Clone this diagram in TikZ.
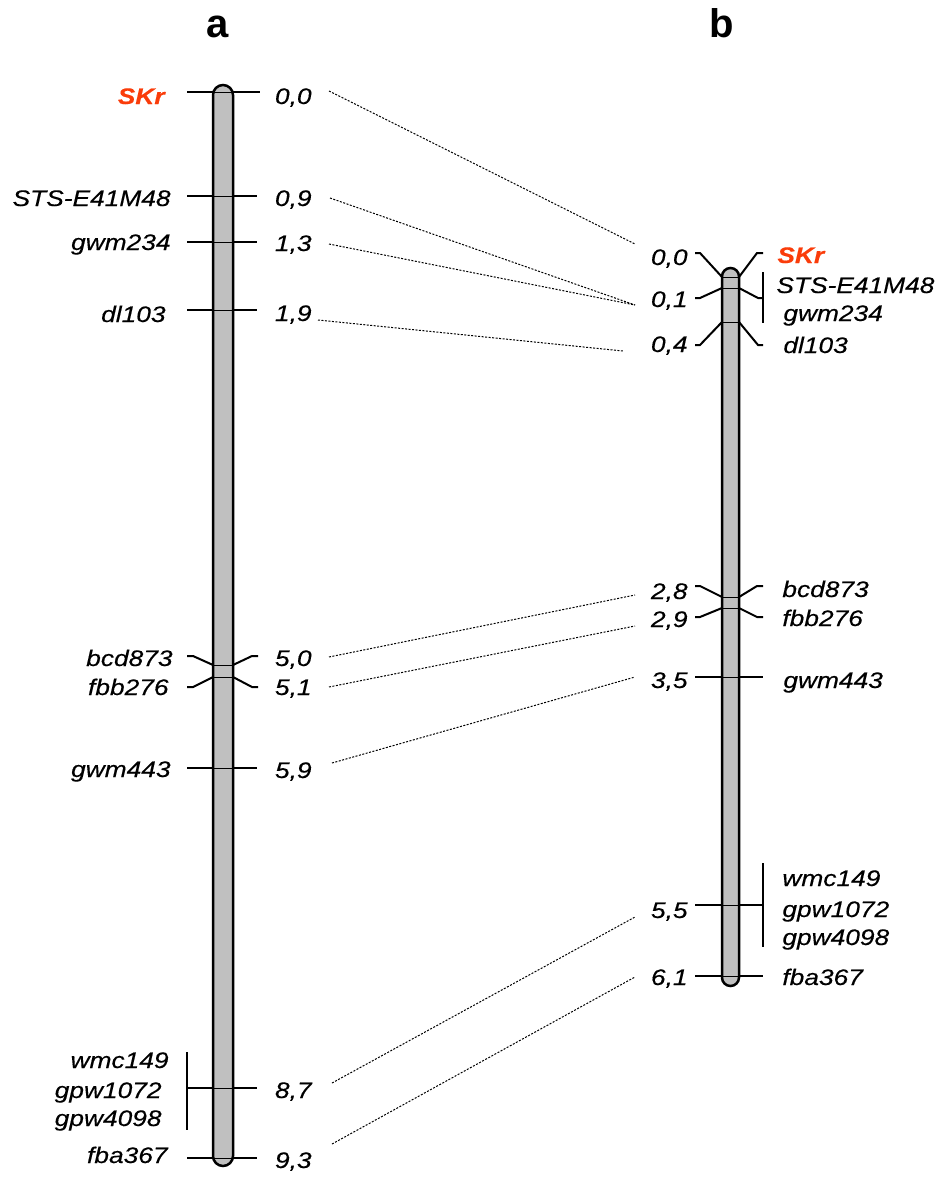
\documentclass[tikz,border=0pt]{standalone}
\usepackage{fontspec}
\setmainfont{Liberation Sans}[FakeStretch=1.17,FakeBold=0.35]
\newfontfamily\titlefont{Liberation Sans}
\definecolor{skred}{RGB}{250,60,10}
\definecolor{chromgray}{RGB}{192,192,192}
\begin{document}
\begin{tikzpicture}[x=0.5pt,y=-0.5pt,
  lbl/.style={inner sep=0pt, font=\fontsize{11.25}{13}\selectfont\itshape},
  lblL/.style={lbl, anchor=base east},
  lblR/.style={lbl, anchor=base west},
  redlbl/.style={text=skred, font=\fontsize{11.25}{13}\selectfont\bfseries\itshape},
  title/.style={inner sep=0pt, anchor=base, font=\fontsize{20}{22}\selectfont\titlefont\bfseries},
  chrom/.style={draw=black, fill=chromgray, line width=1.25pt},
  tick/.style={draw=black, line width=1pt},
  inner/.style={draw=black, line width=0.5pt},
  link/.style={draw=black, line width=0.5pt, dash pattern=on 1pt off 0.75pt}]
\useasboundingbox (0,0) rectangle (942,1178);

% titles
\node[title] (ta) at (218,37) {a};
\node[title] (tb) at (722,37) {b};

% chromosomes
\draw[chrom, rounded corners=5pt] (213,85) rectangle (233,1166);
\draw[chrom, rounded corners=4.25pt] (722,268) rectangle (739,986);

% ---- chromosome a ticks
\foreach \yy/\xr in {92/260,196/257,242/257,310/257,768/257,1088/257,1158/257}{
  \draw[tick] (187,\yy) -- (213,\yy);
  \draw[inner] (213,\yy) -- (233,\yy);
  \draw[tick] (233,\yy) -- (\xr,\yy);
}
\draw[tick] (187,656) -- (193,656) -- (213,665);
\draw[inner] (213,665) -- (233,665);
\draw[tick] (233,665) -- (252,656) -- (258,656);
\draw[tick] (187,687) -- (193,687) -- (213,677);
\draw[inner] (213,677) -- (233,677);
\draw[tick] (233,677) -- (252,687) -- (258,687);
\draw[tick] (187,1052) -- (187,1130);

% ---- chromosome b ticks
\draw[tick] (695,253) -- (700,253) -- (722,277);
\draw[inner] (722,277) -- (739,277);
\draw[tick] (739,277) -- (757,253) -- (763,253);
\draw[tick] (695,298) -- (700,298) -- (722,288);
\draw[inner] (722,288) -- (739,288);
\draw[tick] (739,288) -- (758,298) -- (763,298);
\draw[tick] (695,345) -- (700,345) -- (722,322);
\draw[inner] (722,322) -- (739,322);
\draw[tick] (739,322) -- (758,345) -- (763,345);
\draw[tick] (763,272) -- (763,323);
\draw[tick] (695,586) -- (700,586) -- (722,597);
\draw[inner] (722,597) -- (739,597);
\draw[tick] (739,597) -- (757,586) -- (763,586);
\draw[tick] (695,617) -- (700,617) -- (722,608);
\draw[inner] (722,608) -- (739,608);
\draw[tick] (739,608) -- (757,617) -- (763,617);
\foreach \yy in {677,905,976}{
  \draw[tick] (695,\yy) -- (722,\yy);
  \draw[inner] (722,\yy) -- (739,\yy);
  \draw[tick] (739,\yy) -- (763,\yy);
}
\draw[tick] (763,863) -- (763,947);

% ---- labels a (left)
\node[lblL, redlbl] (aSKr) at (165,104) {SKr};
\node[lblL] (aSTS) at (171,206) {STS-E41M48};
\node[lblL] (agwm234) at (171,250) {gwm234};
\node[lblL] (adl103) at (166,322) {dl103};
\node[lblL] (abcd873) at (173,666) {bcd873};
\node[lblL] (afbb276) at (169,695) {fbb276};
\node[lblL] (agwm443) at (171,777) {gwm443};
\node[lblL] (awmc149) at (169,1068) {wmc149};
\node[lblL] (agpw1072) at (162,1098) {gpw1072};
\node[lblL] (agpw4098) at (162,1126) {gpw4098};
\node[lblL] (afba367) at (168,1163) {fba367};

% ---- numbers a
\node[lblL] (n00) at (312,104) {0,0};
\node[lblL] (n09) at (312,206) {0,9};
\node[lblL] (n13) at (312,251) {1,3};
\node[lblL] (n19) at (312,321) {1,9};
\node[lblL] (n50) at (312,666) {5,0};
\node[lblL] (n51) at (312,695) {5,1};
\node[lblL] (n59) at (312,778) {5,9};
\node[lblL] (n87) at (312,1098) {8,7};
\node[lblL] (n93) at (312,1168) {9,3};

% ---- numbers b
\node[lblL] (m00) at (688,265) {0,0};
\node[lblL] (m01) at (688,307) {0,1};
\node[lblL] (m04) at (688,352) {0,4};
\node[lblL] (m28) at (688,599) {2,8};
\node[lblL] (m29) at (688,627) {2,9};
\node[lblL] (m35) at (688,688) {3,5};
\node[lblL] (m55) at (688,918) {5,5};
\node[lblL] (m61) at (688,985) {6,1};

% ---- labels b (right)
\node[lblR, redlbl] (bSKr) at (777,263) {SKr};
\node[lblR] (bSTS) at (776,293) {STS-E41M48};
\node[lblR] (bgwm234) at (783,321) {gwm234};
\node[lblR] (bdl103) at (783,353) {dl103};
\node[lblR] (bbcd873) at (782,597) {bcd873};
\node[lblR] (bfbb276) at (782,626) {fbb276};
\node[lblR] (bgwm443) at (783,688) {gwm443};
\node[lblR] (bwmc149) at (782,886) {wmc149};
\node[lblR] (bgpw1072) at (782,917) {gpw1072};
\node[lblR] (bgpw4098) at (782,945) {gpw4098};
\node[lblR] (bfba367) at (782,985) {fba367};

% ---- connector ends
\coordinate (pa00) at (329,91);
\coordinate (pa09) at (330,198);
\coordinate (pa13) at (329,244);
\coordinate (pa19) at (318,320);
\coordinate (pa50) at (329,657);
\coordinate (pa51) at (329,687);
\coordinate (pa59) at (332,763);
\coordinate (pa87) at (332,1083);
\coordinate (pa93) at (332,1144);
\coordinate (pb00) at (635,244);
\coordinate (pb01) at (635,305);
\coordinate (pb04) at (623,351);
\coordinate (pb28) at (635,595);
\coordinate (pb29) at (635,626);
\coordinate (pb35) at (635,677);
\coordinate (pb55) at (635,917);
\coordinate (pb61) at (635,977);

\draw[link] (pa00) -- (pb00);
\draw[link] (pa09) -- (pb01);
\draw[link] (pa13) -- (pb01);
\draw[link] (pa19) -- (pb04);
\draw[link] (pa50) -- (pb28);
\draw[link] (pa51) -- (pb29);
\draw[link] (pa59) -- (pb35);
\draw[link] (pa87) -- (pb55);
\draw[link] (pa93) -- (pb61);
\end{tikzpicture}
\end{document}
